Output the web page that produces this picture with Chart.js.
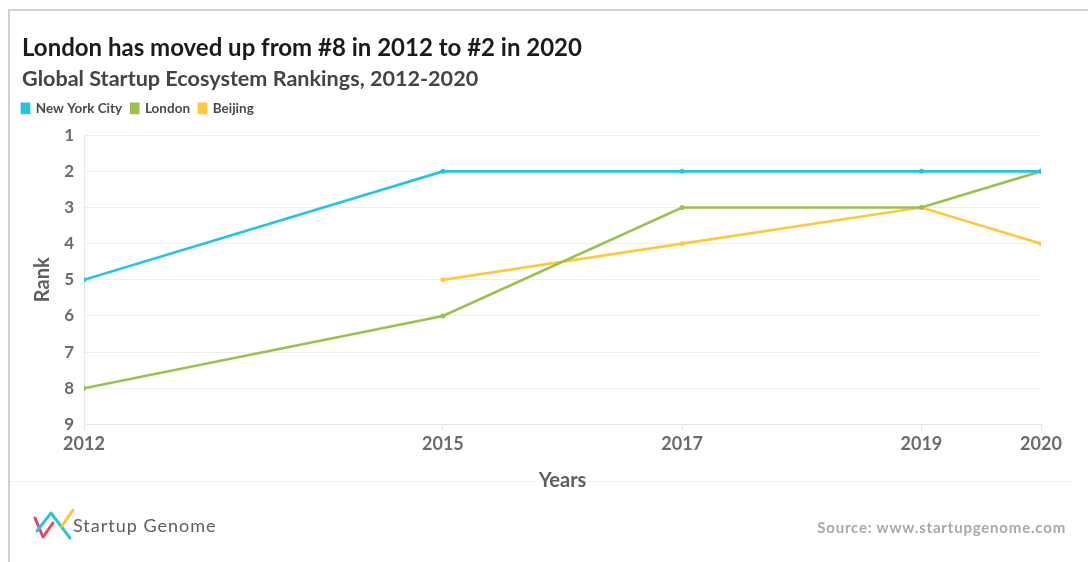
<!DOCTYPE html>
<html>
<head>
<meta charset="utf-8">
<script src="https://cdn.jsdelivr.net/npm/chart.js@4.4.1/dist/chart.umd.min.js"></script>
<style>
  html, body { margin: 0; padding: 0; background: #fff; }
  body { width: 1088px; height: 562px; position: relative; overflow: hidden; font-family: Lato, "Noto Sans", sans-serif; }
  #frame { position: absolute; left: 8px; top: 9px; width: 1090px; height: 560px; border-top: 2px solid #d0d0d0; border-left: 2px solid #d0d0d0; }
  #sep { position: absolute; left: 10px; top: 481px; width: 1062px; height: 1px; background: #f2f2f2; }
  #chart { position: absolute; left: 0; top: 0; }
  #logo { position: absolute; left: 32px; top: 506px; }
  #logoText { position: absolute; left: 73px; top: 514px; font-size: 18px; color: #5e5e5e; letter-spacing: 1px; }
  #source { position: absolute; right: 22px; top: 518px; font-size: 15px; font-weight: bold; color: #a9a9a9; letter-spacing: 0.8px; }
</style>
</head>
<body>
<div id="frame"></div>
<div id="sep"></div>
<canvas id="chart" width="1088" height="562"></canvas>
<svg id="logo" width="44" height="36" viewBox="0 0 44 36">
  <polyline points="3,12 11,31 21,17" fill="none" stroke="#e8475f" stroke-width="3" stroke-linecap="round" stroke-linejoin="round"/>
  <polyline points="5,25 19,7 38,32" fill="none" stroke="#2ec4d6" stroke-width="3" stroke-linecap="round" stroke-linejoin="round"/>
  <line x1="30" y1="20" x2="41" y2="4" stroke="#fcc431" stroke-width="3" stroke-linecap="round"/>
</svg>
<div id="logoText">Startup Genome</div>
<div id="source">Source: www.startupgenome.com</div>
<script>
// Ranks (null = no ranking that year)
var years = [2012, 2015, 2017, 2019, 2020];
var rankTicks = [1, 2, 3, 4, 5, 6, 7, 8, 9];
var nycRanks = [5, 2, 2, 2, 2];
var londonRanks = [8, 6, 3, 3, 2];
var beijingRanks = [null, 5, 4, 3, 4];

var cyan = "#24c6dd";
var green = "#9bc14a";
var yellow = "#ffc83e";
var fontFamily = "Lato, 'Noto Sans', sans-serif";

function toPoints(ranks) {
  return ranks.map(function(r, i) { return {x: years[i], y: r}; });
}

function series(label, ranks, color) {
  return {
    label: label,
    data: toPoints(ranks),
    borderColor: color,
    backgroundColor: color,
    borderWidth: 2.7,
    pointRadius: 2.5,
    pointHoverRadius: 3,
    pointBorderWidth: 0,
    tension: 0
  };
}

// legend: line the first swatch up with the title, leave a gap under it
var legendTweak = {
  id: 'legendTweak',
  afterInit: function(chart) {
    var legend = chart.legend;
    var fit = legend.fit;
    legend.fit = function() {
      fit.call(this);
      this.height += 10;
    };
  },
  afterLayout: function(chart) {
    chart.legend.left -= 9;
    chart.legend.right -= 9;
  }
};

var ctx = document.getElementById("chart");
var rankChart = new Chart(ctx, {
  type: 'line',
  data: {
    datasets: [
      series("New York City", nycRanks, cyan),
      series("London", londonRanks, green),
      series("Beijing", beijingRanks, yellow)
    ]
  },
  plugins: [legendTweak],
  options: {
    responsive: false,
    animation: false,
    devicePixelRatio: 1,
    layout: { padding: { left: 22, right: 47, top: 0, bottom: 69 } },
    plugins: {
      title: {
        display: true,
        align: 'start',
        text: 'London has moved up from #8 in 2012 to #2 in 2020',
        color: '#1b1b1b',
        font: { family: fontFamily, size: 24, weight: 'bold', lineHeight: 1.2 },
        padding: { top: 34, bottom: 3 }
      },
      subtitle: {
        display: true,
        align: 'start',
        text: 'Global Startup Ecosystem Rankings, 2012-2020',
        color: '#444',
        font: { family: fontFamily, size: 21.6, weight: 'bold', lineHeight: 1.2 },
        padding: { top: 0, bottom: 1 }
      },
      legend: {
        display: true,
        align: 'start',
        labels: {
          boxWidth: 7,
          boxHeight: 9,
          padding: 9,
          color: '#4a4a4a',
          font: { family: fontFamily, size: 13.5, weight: 'bold' }
        }
      },
      tooltip: { enabled: false }
    },
    scales: {
      x: {
        type: 'linear',
        min: years[0],
        max: years[years.length - 1],
        afterBuildTicks: function(scale) {
          scale.ticks = years.map(function(v) { return {value: v}; });
        },
        ticks: {
          color: '#6b6b6b',
          padding: 3,
          maxRotation: 0,
          font: { family: fontFamily, size: 18, weight: 'bold' },
          callback: function(v) { return String(v); }
        },
        grid: { drawOnChartArea: false, drawTicks: true, tickLength: 6, color: '#e4e4e4' },
        border: { display: true, color: '#e4e4e4' },
        title: {
          display: true,
          text: 'Years',
          color: '#5f5f5f',
          font: { family: fontFamily, size: 20, weight: 'bold' },
          padding: { top: 11, bottom: 0 }
        }
      },
      y: {
        reverse: true,
        min: 1,
        max: 9,
        afterBuildTicks: function(scale) {
          scale.ticks = rankTicks.map(function(v) { return {value: v}; });
        },
        afterFit: function(scale) { scale.width = 62; },
        ticks: {
          color: '#6b6b6b',
          padding: 10,
          font: { family: fontFamily, size: 17, weight: 'bold' }
        },
        grid: { drawTicks: false, color: '#eeeeee' },
        border: { display: true, color: '#e8e8e8' },
        title: {
          display: true,
          text: 'Rank',
          color: '#5f5f5f',
          font: { family: fontFamily, size: 20, weight: 'bold' },
          padding: { top: 9, bottom: 0 }
        }
      }
    }
  }
});
</script>
</body>
</html>
